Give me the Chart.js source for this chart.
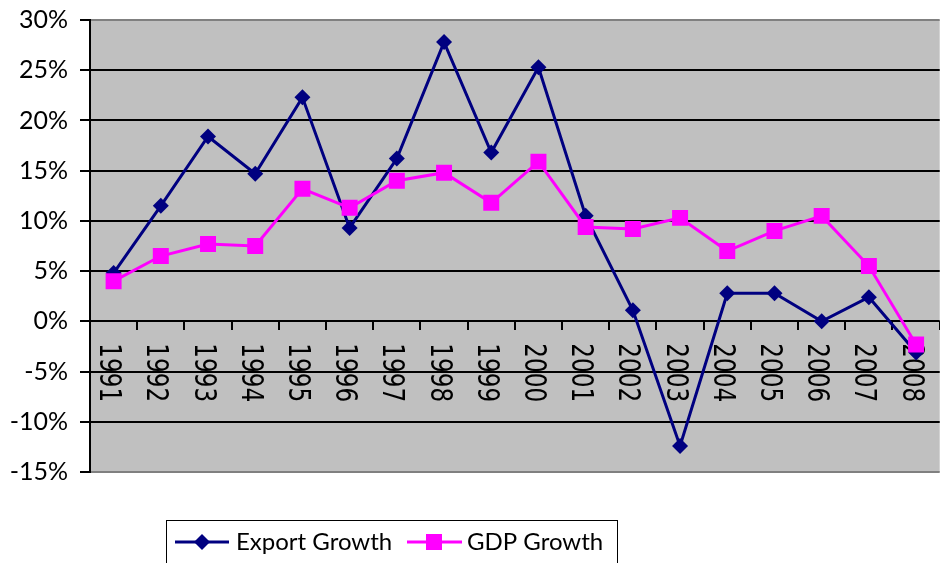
<!DOCTYPE html>
<html><head><meta charset="utf-8">
<script src="https://cdn.jsdelivr.net/npm/chart.js@4/dist/chart.umd.min.js"></script>
<style>
html,body{margin:0;padding:0;background:#fff;overflow:hidden;width:940px;height:563px}
#wrap{position:relative;width:951px;height:563px}
canvas{display:block}
</style></head><body>
<div id="wrap"><canvas id="c" width="951" height="563" style="width:951px;height:563px"></canvas></div>
<script>
const years = ['1991','1992','1993','1994','1995','1996','1997','1998','1999','2000','2001','2002','2003','2004','2005','2006','2007','2008'];
const exportGrowth = [4.8, 11.5, 18.4, 14.7, 22.3, 9.3, 16.2, 27.8, 16.8, 25.3, 10.5, 1.1, -12.4, 2.8, 2.8, 0.0, 2.4, -3.1];
const gdpGrowth = [4.0, 6.5, 7.7, 7.5, 13.2, 11.3, 14.0, 14.8, 11.8, 15.9, 9.4, 9.2, 10.3, 7.0, 9.0, 10.5, 5.5, -2.3];
const seriesNames = ['Export Growth', 'GDP Growth'];
const seriesColors = ['#000080', '#FF00FF'];
const yMin = -15, yMax = 30, yStep = 5;

const plotBg = {
  id: 'plotBg',
  beforeDraw(chart) {
    const {ctx, chartArea: a} = chart;
    ctx.save();
    ctx.fillStyle = '#C0C0C0';
    ctx.fillRect(a.left, a.top, a.right - a.left, a.bottom - a.top);
    ctx.restore();
  }
};

const xLabels = {
  id: 'xLabels',
  beforeDatasetsDraw(chart) {
    const ctx = chart.ctx, xs = chart.scales.x, ys = chart.scales.y;
    const y0 = ys.getPixelForValue(0);
    const fs = 30;
    ctx.save();
    ctx.fillStyle = '#000';
    ctx.font = fs + 'px "DejaVu Sans"';
    ctx.textBaseline = 'alphabetic';
    ctx.textAlign = 'left';
    years.forEach((lab, i) => {
      const cx = xs.getPixelForValue(i);
      ctx.save();
      ctx.translate(cx - 2.5 - 0.3645 * fs, y0 + 22);
      ctx.rotate(Math.PI / 2);
      ctx.scale(0.77, 1);
      ctx.fillText(lab, 0, 0);
      ctx.restore();
    });
    ctx.restore();
  }
};

const legendBox = {
  id: 'legendBox',
  afterDraw(chart) {
    const ctx = chart.ctx;
    ctx.save();
    ctx.fillStyle = '#fff';
    ctx.fillRect(166.5, 520.5, 451, 60);
    ctx.strokeStyle = '#000';
    ctx.lineWidth = 1;
    ctx.strokeRect(166.5, 520.5, 451, 60);
    const yc = 542;
    ctx.strokeStyle = seriesColors[0];
    ctx.lineWidth = 3;
    ctx.beginPath(); ctx.moveTo(175, yc); ctx.lineTo(229, yc); ctx.stroke();
    ctx.fillStyle = seriesColors[0];
    ctx.beginPath(); ctx.moveTo(202, yc - 8); ctx.lineTo(210, yc); ctx.lineTo(202, yc + 8); ctx.lineTo(194, yc); ctx.closePath(); ctx.fill();
    ctx.strokeStyle = seriesColors[1];
    ctx.beginPath(); ctx.moveTo(407, yc); ctx.lineTo(462, yc); ctx.stroke();
    ctx.fillStyle = seriesColors[1];
    ctx.fillRect(434 - 8, yc - 8, 16, 16);
    ctx.fillStyle = '#000';
    ctx.font = '24px Lato';
    ctx.textBaseline = 'alphabetic';
    ctx.textAlign = 'left';
    ctx.fillText(seriesNames[0], 236, 550);
    ctx.fillText(seriesNames[1], 467, 550);
    ctx.restore();
  }
};

new Chart(document.getElementById('c'), {
  type: 'line',
  data: {
    labels: years,
    datasets: [
      {label: seriesNames[0], data: exportGrowth, borderColor: seriesColors[0], backgroundColor: seriesColors[0],
       borderWidth: 3, pointStyle: 'rectRot', pointRadius: 8, pointBorderWidth: 0, tension: 0, order: 1},
      {label: seriesNames[1], data: gdpGrowth, borderColor: seriesColors[1], backgroundColor: seriesColors[1],
       borderWidth: 3, pointStyle: 'rect', pointRadius: 11.3, pointBorderWidth: 0, tension: 0, order: 0}
    ]
  },
  options: {
    responsive: false,
    animation: false,
    devicePixelRatio: 1,
    layout: {padding: {top: 20, bottom: 91, left: 0, right: 0}},
    plugins: {legend: {display: false}, tooltip: {enabled: false}},
    scales: {
      x: {
        type: 'category', position: {y: 0}, offset: true,
        ticks: {display: false},
        grid: {offset: true, drawOnChartArea: false, drawTicks: true, tickLength: 9, tickColor: '#000', tickWidth: 2, lineWidth: 2},
        border: {display: false}
      },
      y: {
        min: yMin, max: yMax,
        ticks: {stepSize: yStep, callback: v => v + '%', color: '#000', font: {family: 'Lato', size: 25, lineHeight: 0.5}, padding: 12},
        grid: {
          color: c => (c.tick && (c.tick.value === yMax || c.tick.value === yMin)) ? '#808080' : '#000',
          lineWidth: 2, tickLength: 10, tickColor: '#000', tickWidth: 2, drawTicks: true
        },
        border: {display: true, color: '#000', width: 2},
        afterFit(s) { s.width = 90; }
      }
    }
  },
  plugins: [plotBg, xLabels, legendBox]
});
</script>
</body></html>
